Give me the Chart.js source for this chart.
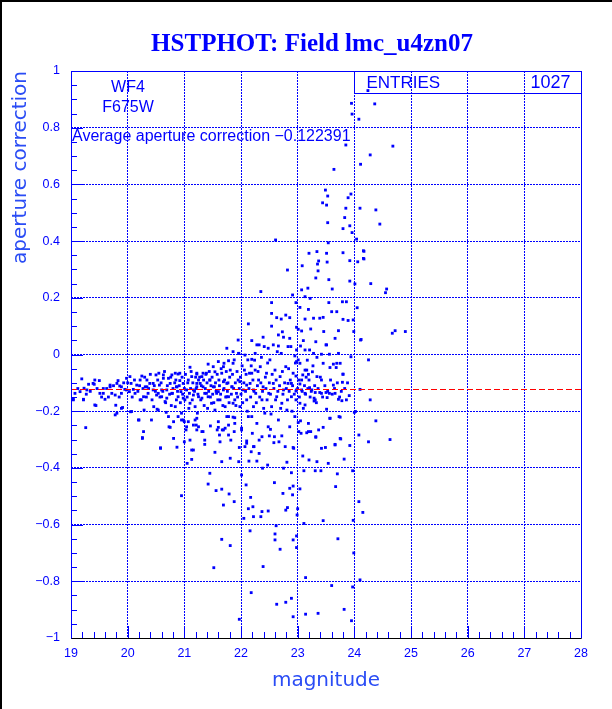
<!DOCTYPE html>
<html>
<head>
<meta charset="utf-8">
<script src="https://cdn.jsdelivr.net/npm/chart.js@4.4.1/dist/chart.umd.min.js"></script>
<style>
  html, body { margin: 0; padding: 0; background: #fff; }
  canvas { display: block; }
</style>
</head>
<body>
<canvas id="myChart" width="612" height="709"></canvas>
<script>
// values: [magnitude, aperture correction]
const bandPoints = [
  [19.19,-0.086],[19.04,-0.158],[19.22,-0.158],[19.16,-0.131],[19.23,-0.119],[19.31,-0.105],[19.41,-0.105],[19.42,-0.09],
  [19.51,-0.137],[19.50,-0.092],[19.26,-0.258],[19.44,-0.18],[19.57,-0.12],[19.6,-0.158],[19.69,-0.108],[19.72,-0.137],
  [19.78,-0.143],[19.81,-0.207],[19.79,-0.179],[19.83,-0.092],[19.86,-0.111],[19.91,-0.187],[19.89,-0.137],[19.95,-0.123],
  [19.98,-0.084],[20.03,-0.131],[20.05,-0.202],[20.06,-0.102],[20.10,-0.123],[20.13,-0.137],[20.19,-0.231],[20.16,-0.108],
  [20.25,-0.076],[20.22,-0.16],[20.28,-0.272],[20.26,-0.296],[20.31,-0.114],[20.34,-0.09],[20.36,-0.137],[20.39,-0.102],
  [20.42,-0.231],[20.45,-0.125],[20.5,-0.072],[20.52,-0.193],[20.54,-0.137],[20.56,-0.108],[20.58,-0.331],[20.6,-0.149],
  [20.63,-0.084],[20.66,-0.166],[20.69,-0.125],[20.72,-0.219],[20.73,-0.255],[20.75,-0.102],[20.78,-0.072],[20.79,-0.137],
  [20.81,-0.296],[20.84,-0.184],[20.85,-0.09],[20.87,-0.114],[20.89,-0.149],[20.92,-0.066],[20.94,-0.131],[20.95,-0.231],
  [20.98,-0.102],[21.01,-0.16],[21.04,-0.255],[21.03,-0.266],[21.07,-0.09],[21.09,-0.137],[21.1,-0.172],[21.13,-0.078],
  [21.16,-0.125],[21.19,-0.184],[21.22,-0.102],[21.23,-0.207],[21.25,-0.149],[21.22,-0.266],[21.21,-0.249],
  [20.55,-0.066],[20.63,-0.072],[20.72,-0.084],[20.84,-0.066],[20.89,-0.069],[20.92,-0.092],[21.10,-0.045],[21.22,-0.069],
  [21.33,-0.066],[21.42,-0.034],[21.54,-0.061],[21.6,-0.025],[21.69,-0.043],[21.78,-0.022],[21.86,-0.031],[21.96,0.004],
  [22.07,-0.002],[22.19,-0.017],[22.28,0.034],[22.15,-0.066],[22.25,-0.055],[21.98,-0.096],[22.10,-0.108],[22.22,-0.125],
  [21.45,-0.09],[21.51,-0.114],[21.6,-0.131],[21.69,-0.096],[21.75,-0.149],[21.84,-0.114],[21.89,-0.16],[21.39,-0.137],
  [21.31,-0.154],[21.22,-0.114],[21.16,-0.143],[21.04,-0.125],[20.98,-0.154],[20.86,-0.114],[20.78,-0.137],[20.69,-0.154],
  [20.6,-0.125],[20.51,-0.143],[20.45,-0.102],[20.34,-0.114],[20.28,-0.149],[20.22,-0.09],[20.04,-0.078],[19.98,-0.125],
  [19.89,-0.114],[19.81,-0.102],[19.69,-0.114],[19.57,-0.137],[19.39,-0.102],[19.28,-0.125],[19.07,-0.137],[19.04,-0.16],
  [19.22,-0.16],[19.42,-0.178],[19.78,-0.213],[19.89,-0.19],[20.07,-0.201],[20.2,-0.231],[20.29,-0.196],[20.46,-0.184],
  [20.54,-0.196],[20.68,-0.204],[20.75,-0.257],[20.81,-0.237],[20.89,-0.219],[21.0,-0.237],[21.19,-0.231],[21.31,-0.272],
  [21.36,-0.302],[21.6,-0.257],[21.69,-0.266],[21.78,-0.284],[21.86,-0.221],[22.01,-0.26],[22.10,-0.313],[22.22,-0.325],
  [20.26,-0.293],[20.58,-0.329],[20.87,-0.327],[21.13,-0.337],
  [19.12,-0.12],[19.27,-0.14],[19.34,-0.13],[19.46,-0.12],[19.54,-0.15],[19.63,-0.12],[19.66,-0.15],[19.75,-0.11],
  [19.85,-0.15],[19.93,-0.1],[20.0,-0.1],[20.08,-0.15],[20.12,-0.09],[20.18,-0.13],[20.21,-0.11],[20.24,-0.16],
  [20.27,-0.12],[20.3,-0.08],[20.33,-0.15],[20.37,-0.12],[20.4,-0.07],[20.43,-0.16],[20.47,-0.11],[20.49,-0.13],
  [20.53,-0.09],[20.57,-0.15],[20.59,-0.1],[20.62,-0.13],[20.65,-0.06],[20.67,-0.17],[20.7,-0.11],[20.74,-0.14],
  [20.76,-0.08],[20.77,-0.18],[20.8,-0.12],[20.83,-0.1],[20.86,-0.16],[20.88,-0.13],[20.91,-0.11],[20.93,-0.17],
  [20.96,-0.08],[20.97,-0.14],[21.0,-0.12],[21.02,-0.07],[21.05,-0.15],[21.06,-0.1],[21.08,-0.19],[21.11,-0.12],
  [21.12,-0.06],[21.14,-0.16],[21.15,-0.1],[21.18,-0.13],[21.2,-0.08]
];

const corePoints = [
  [21.22,-0.066],[21.25,-0.09],[21.28,-0.102],[21.31,-0.078],[21.33,-0.114],[21.36,-0.137],[21.39,-0.066],[21.42,-0.149],
  [21.45,-0.09],[21.48,-0.172],[21.51,-0.043],[21.53,-0.114],[21.54,-0.196],[21.57,-0.137],[21.60,-0.237],[21.61,-0.09],
  [21.63,-0.16],[21.66,-0.066],[21.67,-0.266],[21.69,-0.125],[21.70,-0.031],[21.72,-0.184],[21.75,-0.102],[21.78,-0.219],
  [21.78,-0.149],[21.81,-0.055],[21.82,-0.302],[21.84,-0.114],[21.86,-0.172],[21.88,-0.019],[21.89,-0.243],[21.92,-0.137],
  [21.95,-0.09],[21.96,0.004],[21.98,-0.184],[22.01,-0.266],[22.04,-0.125],[22.06,-0.055],[22.07,-0.325],[22.10,-0.16],
  [22.12,-0.019],[22.13,-0.219],[22.16,-0.102],[22.19,-0.066],[22.20,-0.278],[22.22,-0.184],[22.25,0.004],[22.26,-0.137],
  [22.28,-0.243],[22.31,-0.09],[22.32,-0.302],[22.34,-0.043],[22.37,-0.16],[22.39,-0.114],[22.41,0.028],[22.42,-0.207],
  [22.45,-0.066],[22.48,-0.255],[22.49,-0.137],[22.51,-0.019],[22.54,-0.184],[22.57,-0.102],[22.59,-0.29],[22.60,-0.055],
  [22.63,-0.149],[22.66,-0.231],[22.69,-0.078],[22.71,0.004],[22.72,-0.172],[22.75,-0.125],[22.78,-0.325],[22.79,-0.043],
  [22.81,-0.196],[22.83,-0.102],[22.86,-0.255],[22.88,0.028],[22.89,-0.149],[22.92,-0.066],[22.95,-0.219],[22.98,-0.125],
  [23.01,-0.019],[23.04,-0.172],[23.06,-0.278],[23.07,-0.09],[23.13,-0.137],[23.16,-0.055],[23.19,-0.243],[23.25,-0.125],
  [23.28,0.004],[23.31,-0.16],[23.34,-0.078],[23.37,-0.266],[23.42,-0.137],[23.45,-0.031],
  [21.21,-0.12],[21.24,-0.14],[21.27,-0.08],[21.29,-0.16],[21.3,-0.11],[21.34,-0.09],[21.35,-0.18],[21.37,-0.12],
  [21.38,-0.07],[21.4,-0.1],[21.41,-0.19],[21.43,-0.13],[21.44,-0.06],[21.46,-0.15],[21.47,-0.11],[21.49,-0.08],
  [21.5,-0.14],[21.52,-0.17],[21.55,-0.1],[21.56,-0.13],[21.58,-0.07],[21.59,-0.16],[21.62,-0.11],[21.64,-0.14],
  [21.65,-0.05],[21.68,-0.18],[21.7,-0.12],[21.71,-0.09],[21.73,-0.15],[21.74,-0.06],[21.76,-0.13],[21.77,-0.1],
  [21.79,-0.17],[21.8,-0.08],[21.83,-0.14],[21.85,-0.07],[21.87,-0.12],[21.9,-0.1],[21.91,-0.18],[21.93,-0.06],
  [21.94,-0.15],[21.97,-0.12],[21.99,-0.08],[22.0,-0.14],[22.02,-0.04],[22.03,-0.17],[22.05,-0.1],[22.08,-0.13],
  [22.09,-0.07],[22.11,-0.2],[22.14,-0.12],[22.17,-0.15],[22.18,-0.04],[22.21,-0.09],[22.23,-0.13],[22.24,-0.02],
  [22.27,-0.17],[22.29,-0.11],[22.3,-0.06],[22.33,-0.15],[22.35,-0.1],[22.36,-0.01],[22.38,-0.13],[22.4,-0.19],
  [22.43,-0.08],[22.44,-0.12],[22.46,-0.16],[22.47,-0.03],[22.5,-0.1],[22.52,-0.14],[22.53,-0.21],[22.55,-0.07],
  [22.58,-0.12],[22.61,-0.16],[22.62,-0.09],[22.64,0.01],[22.65,-0.13],[22.68,-0.11],[22.7,-0.19],[22.73,-0.06],
  [22.74,-0.14],[22.77,-0.1],[22.8,-0.12],[22.82,-0.16],[22.84,-0.05],[22.85,-0.13],[22.87,-0.09],[22.9,-0.2],
  [22.91,-0.11],[22.94,-0.14],[22.96,-0.03],[22.97,-0.16],[23.0,-0.12],[23.02,-0.09],[23.03,-0.15],[23.05,0.03],
  [23.08,-0.13],[23.1,-0.19],[23.12,-0.11],[23.14,-0.14],[23.17,-0.02],[23.18,-0.12],[23.2,-0.09],[23.22,-0.15],
  [23.24,-0.13],[23.27,-0.04],[23.3,-0.11],[23.33,-0.17],[23.36,-0.12],[23.4,-0.08],[23.44,-0.15],[23.48,-0.11],
  [23.53,-0.13],[23.58,-0.09],[23.61,-0.14],[23.65,-0.12],[23.7,-0.1],[23.74,-0.15],[23.77,-0.13],[23.83,-0.12],
  [23.86,-0.16],[23.88,-0.1]
];

const upperPoints = [
  [24.36,0.884],[23.95,0.886],[23.96,0.848],[24.08,0.83],[24.24,0.931],[23.85,0.739],[24.68,0.735],[24.28,0.704],
  [24.11,0.671],[23.64,0.653],[23.49,0.58],[23.53,0.559],[23.94,0.566],[23.89,0.553],[23.44,0.535],[23.51,0.527],
  [24.1,0.516],[24.38,0.51],[23.85,0.516],[23.83,0.483],[23.53,0.465],[23.80,0.444],[23.92,0.454],[24.45,0.46],
  [23.96,0.43],[24.04,0.407],[23.54,0.394],[24.17,0.364],[23.80,0.359],[23.2,0.357],[23.51,0.357],[23.37,0.33],
  [23.52,0.326],[23.92,0.331],[24.06,0.327],[24.17,0.337],[23.08,0.313],[22.82,0.298],[23.36,0.295],[23.32,0.27],
  [23.55,0.264],[23.92,0.259],[24.01,0.249],[24.29,0.25],[23.07,0.228],[23.18,0.234],[23.61,0.231],[22.91,0.21],
  [23.13,0.204],[23.22,0.198],[24.57,0.231],[24.55,0.218],[24.05,0.165],[22.97,0.183],[23.86,0.186],[23.79,0.186],
  [23.60,0.151],[23.69,0.151],[23.45,0.131],[23.8,0.124],[23.89,0.12],[24.72,0.084],[24.90,0.081],[24.67,0.075],
  [24.12,0.053],[23.99,0.081],[23.72,0.084],[23.46,0.081],[23.23,0.09],
  [22.61,0.404],[23.34,0.363],[24.16,0.366],[23.35,0.319],[24.16,0.339],[22.35,0.222],[23.04,0.166],[23.19,0.159],
  [23.55,0.183],[22.54,0.183],[22.54,0.145],[22.63,0.13],[22.71,0.125],[22.79,0.139],[22.86,0.13],[23.13,0.125],
  [23.28,0.128],[23.39,0.128],[23.98,0.122],[22.13,0.108],[22.54,0.1],[22.98,0.096],[23.01,0.089],[22.73,0.08],
  [23.07,0.083],[22.39,0.061],[22.66,0.069],[22.75,0.061],[22.86,0.057],[22.19,0.049],[22.32,0.034],[22.48,0.022],
  [22.57,0.034],[22.66,0.03],[22.83,0.028],[22.98,0.016],[23.13,0.016],[23.51,0.034],[24.11,0.051],[21.95,0.051],
  [21.75,0.022],[21.86,0.01],[23.34,-0.01],[23.69,-0.031],[24.25,-0.019],[23.8,-0.069],[24.28,-0.16],[24.1,-0.123]
];

const tailPoints = [
  [23.32,0.045],[23.5,0.034],[23.66,0.057],[23.10,0.049],[23.21,0.016],[23.42,0.001],[23.72,0.004],[23.56,0.001],
  [22.95,-0.005],[23.94,-0.008],[22.98,-0.025],[23.04,-0.031],[23.75,-0.031],[23.63,-0.034],[23.57,-0.046],[23.68,-0.046],
  [23.13,-0.055],[23.26,-0.061],[23.8,-0.07],[23.09,-0.072],[23.19,-0.07],[22.97,-0.076],[23.15,-0.08],[23.42,-0.09],
  [23.63,-0.108],[23.79,-0.098],[22.89,-0.102],[23.04,-0.104],[23.21,-0.117],[22.97,-0.129],[23.07,-0.125],[23.31,-0.134],
  [23.39,-0.134],[23.5,-0.134],[23.56,-0.137],[23.66,-0.137],[23.91,-0.145],[23.29,-0.154],[23.52,-0.152],[23.72,-0.158],
  [23.78,-0.163],[23.29,-0.164],[23.13,-0.178],[23.51,-0.193],[24.02,-0.201],[23.57,-0.225],[23.75,-0.221],[23.05,-0.234],
  [23.19,-0.272],[23.32,-0.292],[23.45,-0.257],[23.66,-0.319],[23.75,-0.296],[22.92,-0.328]
];

const lowerPoints = [
  [20.95,-0.207],[20.98,-0.231],[21.07,-0.237],[21.16,-0.249],[21.10,-0.302],[21.16,-0.337],[21.13,-0.37],[21.05,-0.384],
  [21.0,-0.308],[21.22,-0.225],[21.25,-0.255],[21.36,-0.317],[21.33,-0.272],[21.46,-0.252],[21.54,-0.345],[21.58,-0.266],
  [21.62,-0.284],[21.63,-0.308],[21.66,-0.378],[21.72,-0.26],[21.75,-0.219],[21.78,-0.249],[21.81,-0.366],[21.88,-0.272],
  [21.89,-0.223],[21.97,-0.328],[21.96,-0.378],[22.01,-0.425],[22.10,-0.305],[22.18,-0.343],[22.19,-0.219],[22.14,-0.376],
  [22.23,-0.325],[22.28,-0.376],[22.32,-0.349],[22.37,-0.29],[22.38,-0.401],[22.47,-0.39],[22.5,-0.287],[22.52,-0.264],
  [22.58,-0.311],[22.67,-0.308],[22.72,-0.287],[22.75,-0.401],[22.81,-0.38],[22.89,-0.417],[22.93,-0.331],[23.01,-0.24],
  [23.02,-0.272],[23.09,-0.358],[23.11,-0.41],[23.16,-0.276],[23.20,-0.372],[23.23,-0.272],[23.31,-0.41],[23.32,-0.29],
  [23.34,-0.378],[23.41,-0.41],[23.42,-0.331],[23.49,-0.328],[23.54,-0.384],[23.57,-0.225],[23.66,-0.317],[23.73,-0.219],
  [23.76,-0.298],[23.82,-0.369],[23.92,-0.321],[24.08,-0.284],[24.25,-0.308],[24.38,-0.234],[24.0,-0.204],[23.70,-0.421],
  [21.45,-0.419],[21.42,-0.457],[21.56,-0.48],[21.66,-0.475],[21.79,-0.492],[21.69,-0.531],[21.88,-0.519],[20.95,-0.498],
  [22.09,-0.46],[22.17,-0.504],[22.13,-0.544],[22.21,-0.537],[22.37,-0.554],[22.35,-0.572],[22.22,-0.572],[22.05,-0.578],
  [22.48,-0.552],[22.59,-0.452],[22.74,-0.49],[22.82,-0.54],[22.86,-0.472],[22.92,-0.464],[22.79,-0.549],[23.0,-0.544],
  [22.99,-0.566],[23.04,-0.474],[22.91,-0.495],[23.11,-0.596],[23.45,-0.586],[23.67,-0.466],[24.08,-0.519],[24.15,-0.557],
  [22.62,-0.604],[22.16,-0.622],[22.6,-0.633],[22.6,-0.654],[22.69,-0.687],[22.98,-0.681],[22.98,-0.64],[21.66,-0.652],
  [21.81,-0.674],[23.71,-0.65],[21.52,-0.752],[22.39,-0.748],[23.14,-0.787],[24.1,-0.795],[23.6,-0.815],[22.18,-0.84],
  [22.63,-0.881],[22.79,-0.874],[22.89,-0.86],[23.14,-0.916],[23.36,-0.913],[22.92,-0.925],[23.82,-0.899],[23.95,-0.939],
  [21.97,-0.934],[22.92,-0.654],[23.97,-0.41],[23.98,-0.585],[23.99,-0.70],[23.97,-0.82],[24.63,-0.30]
];

const avgCorrection = -0.122391;
const entries = 1027;
const xRange = [19, 28];
const yRange = [-1, 1];

const BLUE = '#0000ff';
const allPoints = [].concat(bandPoints, corePoints, upperPoints, tailPoints, lowerPoints)
  .map(p => ({x: p[0], y: p[1]}));

const minus = s => String(s).replace('-', '\u2212');

const decorations = {
  id: 'decorations',
  beforeDraw(chart) {
    const ctx = chart.ctx;
    ctx.save();
    ctx.fillStyle = '#fff';
    ctx.fillRect(0, 0, chart.width, chart.height);
    ctx.fillStyle = '#000';
    ctx.fillRect(0, 0, chart.width, 2);
    ctx.fillRect(0, 0, 2, chart.height);
    ctx.restore();
  },
  afterDatasetsDraw(chart) {
    // average aperture correction, dashed red
    const {ctx, chartArea: a, scales: {x, y}} = chart;
    const py = Math.round(y.getPixelForValue(avgCorrection)) + 0.5;
    ctx.save();
    ctx.strokeStyle = '#ff0000';
    ctx.lineWidth = 1;
    ctx.setLineDash([6, 3]);
    ctx.beginPath();
    ctx.moveTo(x.getPixelForValue(xRange[0]), py);
    ctx.lineTo(x.getPixelForValue(xRange[1]), py);
    ctx.stroke();
    ctx.restore();
  },
  afterDraw(chart) {
    const {ctx, chartArea: a, scales: {x, y}} = chart;
    ctx.save();
    // inward tick marks
    ctx.strokeStyle = BLUE;
    ctx.lineWidth = 1;
    ctx.beginPath();
    for (let i = 0; i <= 40; i++) {
      const py = Math.round(y.getPixelForValue(-1 + i * 0.05)) + 0.5;
      const len = i % 4 === 0 ? 12 : 6;
      ctx.moveTo(a.left, py);
      ctx.lineTo(a.left + len, py);
    }
    for (let i = 0; i <= 45; i++) {
      const px = Math.round(x.getPixelForValue(19 + i * 0.2)) + 0.5;
      const len = i % 5 === 0 ? 12 : 6;
      ctx.moveTo(px, a.bottom);
      ctx.lineTo(px, a.bottom - len);
    }
    ctx.stroke();

    // frame
    const l = Math.round(a.left) + 0.5, r = Math.round(a.right) + 0.5;
    const t = Math.round(a.top) + 0.5, b = Math.round(a.bottom) + 0.5;
    ctx.beginPath();
    ctx.moveTo(l, b); ctx.lineTo(l, t); ctx.lineTo(r, t); ctx.lineTo(r, b);
    ctx.stroke();
    ctx.strokeStyle = '#000';
    ctx.beginPath();
    ctx.moveTo(l, b); ctx.lineTo(r, b);
    ctx.stroke();

    // entries box
    const bx = Math.round(x.getPixelForValue(24)) + 0.5;
    ctx.strokeStyle = BLUE;
    ctx.beginPath();
    ctx.moveTo(bx, t); ctx.lineTo(bx, t + 22); ctx.lineTo(r, t + 22);
    ctx.stroke();

    ctx.fillStyle = BLUE;
    ctx.textBaseline = 'middle';
    ctx.font = '17px "Liberation Sans"';
    ctx.textAlign = 'left';
    ctx.fillText('ENTRIES', bx + 12, t + 12);
    ctx.font = '18px "Liberation Sans"';
    ctx.textAlign = 'right';
    ctx.fillText(String(entries), r - 11, t + 12);

    // labels
    ctx.font = '16px "Liberation Sans"';
    ctx.textAlign = 'center';
    ctx.fillText('WF4', 128, 88);
    ctx.fillText('F675W', 128, 108);
    ctx.textAlign = 'left';
    ctx.fillText('Average aperture correction ' + minus(avgCorrection), a.left + 1, 137);

    // title
    ctx.font = 'bold 25px "Liberation Serif"';
    ctx.textAlign = 'center';
    ctx.textBaseline = 'alphabetic';
    ctx.fillText('HSTPHOT: Field lmc_u4zn07', 312, 51);
    ctx.restore();
  }
};

const ctx = document.getElementById('myChart').getContext('2d');
const myChart = new Chart(ctx, {
  type: 'scatter',
  data: {
    datasets: [{
      label: 'aperture correction',
      data: allPoints,
      backgroundColor: BLUE,
      borderWidth: 0,
      pointStyle: 'rect',
      pointRadius: 2
    }]
  },
  options: {
    responsive: false,
    animation: false,
    devicePixelRatio: 1,
    layout: { padding: { top: 71, right: 31, left: 0, bottom: 0 } },
    plugins: {
      legend: { display: false },
      tooltip: { enabled: false },
      title: { display: false }
    },
    scales: {
      x: {
        type: 'linear',
        min: xRange[0],
        max: xRange[1],
        afterFit: s => { s.height = 71; },
        ticks: {
          stepSize: 1,
          color: BLUE,
          padding: 8,
          maxRotation: 0,
          font: { family: 'Liberation Sans', size: 12.5 }
        },
        grid: { color: BLUE, lineWidth: 1, drawTicks: false },
        border: { display: false, dash: [2, 1] },
        title: {
          display: true,
          text: 'magnitude',
          color: '#2a4cf5',
          font: { family: 'DejaVu Sans', size: 20 },
          padding: { top: 0, bottom: 16 }
        }
      },
      y: {
        type: 'linear',
        min: yRange[0],
        max: yRange[1],
        afterFit: s => { s.width = 71; },
        ticks: {
          stepSize: 0.2,
          color: BLUE,
          padding: 11,
          font: { family: 'Liberation Sans', size: 12.5 },
          callback: v => minus(Number(v.toFixed(1)))
        },
        grid: { color: BLUE, lineWidth: 1, drawTicks: false },
        border: { display: false, dash: [2, 1] },
        title: {
          display: true,
          text: 'aperture correction',
          align: 'end',
          color: '#2a4cf5',
          font: { family: 'DejaVu Sans', size: 20 },
          padding: { top: 9, bottom: 0 }
        }
      }
    }
  },
  plugins: [decorations]
});
</script>
</body>
</html>
